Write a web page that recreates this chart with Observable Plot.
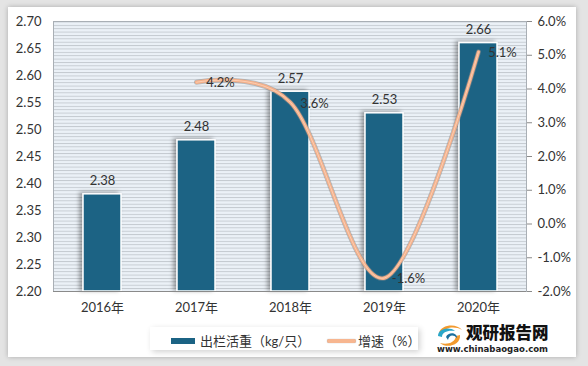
<!DOCTYPE html>
<html><head><meta charset="utf-8">
<script src="https://cdn.jsdelivr.net/npm/d3@7"></script>
<script src="https://cdn.jsdelivr.net/npm/@observablehq/plot@0.6"></script>
<style>
html,body{margin:0;padding:0;width:588px;height:366px;overflow:hidden;background:#e4e4e4;font-family:Lato,"Noto Sans CJK SC",sans-serif;}
#card{position:absolute;left:8px;top:7px;width:568px;height:350px;background:#fff;box-shadow:0 0 5px rgba(0,0,0,0.25);}
#chart{position:absolute;left:0;top:0;}
#legend{position:absolute;left:150px;top:327px;width:268px;height:23px;background:#fff;box-shadow:2px 2px 6px rgba(0,0,0,0.18);font-size:13px;color:#333;}
#legend .it{position:absolute;top:3px;white-space:nowrap;}
#logo{position:absolute;left:433px;top:319px;width:130px;height:38px;}
</style></head>
<body>
<div id="card"></div>
<div id="chart"></div>
<div id="legend">
  <div class="it" style="left:21px;top:4px;"><span style="display:inline-block;width:24px;height:6px;background:#1b6384;vertical-align:middle;margin-right:5px;"></span><span style="vertical-align:middle">出栏活重（kg/只）</span></div>
  <div class="it" style="left:177px;top:4px;"><span style="display:inline-block;width:29px;height:4px;background:#f7b690;border-radius:2px;box-shadow:0 0 1px #999;vertical-align:middle;margin-right:2px;"></span><span style="vertical-align:middle">增速（%）</span></div>
</div>
<div id="logo">
  <svg width="130" height="38" viewBox="0 0 130 38">
    <path d="M6,14 C8,5 24,4 29,11 C22,7 12,8 11,14 Z" fill="#f29a2e"/>
    <path d="M5,17 C5,10 16,7 22,12 C15,11 9,13 9,18 Z" fill="#2aa7c9"/>
    <path d="M27,16 C28,26 14,30 7,24 C14,26 22,24 23,17 Z" fill="#f29a2e"/>
    <path d="M13,18 C15,13 24,13 24,19 C20,15 16,16 15,21 Z" fill="#1b6f9e"/>
    <text x="33" y="20" font-size="16.5" font-weight="900" fill="#111" font-family="'Noto Sans CJK SC',sans-serif">观研报告网</text>
    <text x="4" y="33" font-size="9" font-weight="bold" fill="#222" font-family="'DejaVu Sans',sans-serif" textLength="111" lengthAdjust="spacingAndGlyphs">www.chinabaogao.com</text>
  </svg>
</div>
<script>
const years = ["2016年","2017年","2018年","2019年","2020年"];
const weight = [2.38, 2.48, 2.57, 2.53, 2.66];
const growth = [null, 4.2, 3.6, -1.6, 5.1];
const leftTicks = [2.20,2.25,2.30,2.35,2.40,2.45,2.50,2.55,2.60,2.65,2.70];
const rightTicks = [-2,-1,0,1,2,3,4,5,6];

const lo = 2.2, hi = 2.7, plo = -2, phi = 6;
const toLeft = p => lo + (p - plo) / (phi - plo) * (hi - lo);
const toPct = v => (v - lo) / (hi - lo) * (phi - plo) + plo;

const bars = years.map((y, i) => ({year: y, value: weight[i]}));
const line = years.map((y, i) => ({year: y, g: growth[i]})).filter(d => d.g !== null).map(d => ({...d, v: toLeft(d.g)}));

const font = "Lato, 'Noto Sans CJK SC', sans-serif";
const chart = Plot.plot({
  width: 588, height: 366,
  marginLeft: 53, marginRight: 62, marginTop: 21, marginBottom: 75,
  style: {background: "transparent", fontFamily: font, fontSize: "13px", color: "#333", overflow: "visible"},
  x: {domain: years, paddingInner: 0.6, paddingOuter: 0.3, axis: null, label: null},
  y: {domain: [lo, hi], axis: null, label: null},
  marks: [
    Plot.frame({fill: "url(#stripes)", stroke: "#a9afb5"}),
    Plot.barY(bars, {x: "year", y1: lo, y2: "value", fill: "#1b6384", stroke: "#fff", strokeWidth: 1.5}),
    Plot.text(bars, {x: "year", y: "value", text: d => d.value.toFixed(2), dy: -13, fontSize: 13, fill: "#333"}),
    Plot.line(line, {x: "year", y: "v", curve: "cardinal", stroke: "#8c8c8c", strokeOpacity: 0.55, strokeWidth: 5}),
    Plot.line(line, {x: "year", y: "v", curve: "cardinal", stroke: "#f5b08a", strokeWidth: 3.4}),
    Plot.line(line, {x: "year", y: "v", curve: "cardinal", stroke: "#fcd6bd", strokeWidth: 0.8}),
    Plot.text(line, {x: "year", y: "v", text: d => d.g.toFixed(1) + "%", dx: 24, dy: 1, fontSize: 13, fill: "#333"}),
    Plot.axisY(leftTicks, {anchor: "left", label: null, tickSize: 0, tickPadding: 12, tickFormat: d => d.toFixed(2), fontSize: 13, fill: "#333"}),
    Plot.axisY(rightTicks.map(toLeft), {anchor: "right", label: null, tickSize: 5, tickPadding: 6, stroke: "#8a8a8a", tickFormat: d => toPct(d).toFixed(1) + "%", fontSize: 13, fill: "#333"}),
    Plot.axisX({anchor: "bottom", label: null, tickSize: 0, tickPadding: 11, fontSize: 13, fill: "#333"}),
    Plot.ruleY([lo], {stroke: "#8a8a8a"})
  ]
});
const svg = d3.select(chart);
const defs = svg.insert("defs", ":first-child");
const pat = defs.append("pattern").attr("id", "stripes").attr("patternUnits", "userSpaceOnUse")
  .attr("x", 0).attr("y", 21).attr("width", 10).attr("height", 27/8);
pat.append("rect").attr("width", 10).attr("height", 27/8).attr("fill", "#ebf1f7");
pat.append("rect").attr("y", 0).attr("width", 10).attr("height", 0.9).attr("fill", "#c3c9cf");
const f = defs.append("filter").attr("id", "shadow").attr("x", "-30%").attr("y", "-10%").attr("width", "160%").attr("height", "130%");
f.append("feDropShadow").attr("dx", -3).attr("dy", -1).attr("stdDeviation", 2).attr("flood-color", "#000").attr("flood-opacity", 0.35);
svg.selectAll("g[aria-label=bar] rect").attr("filter", "url(#shadow)");
document.getElementById("chart").appendChild(chart);
</script>
</body></html>
